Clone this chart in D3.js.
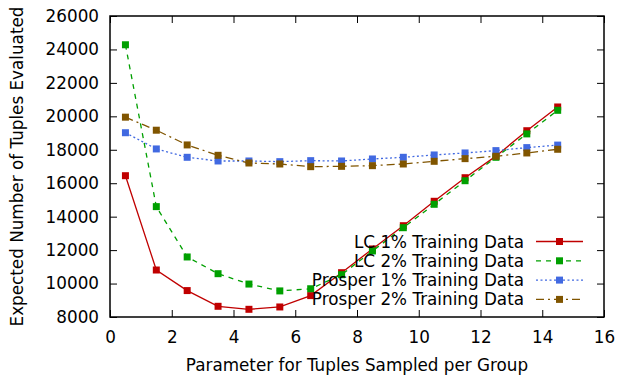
<!DOCTYPE html>
<html><head><meta charset="utf-8">
<script src="https://cdn.jsdelivr.net/npm/d3@7"></script>
<style>body{margin:0;background:#fff}svg{display:block}text{font-family:"DejaVu Sans",sans-serif}</style>
</head><body><svg id="c" width="619" height="376"></svg>
<script>
const xValues = [0.5,1.5,2.5,3.5,4.5,5.5,6.5,7.5,8.5,9.5,10.5,11.5,12.5,13.5,14.5];
const lc1 = [16450,10810,9580,8640,8460,8600,9280,10650,12070,13460,14920,16330,17620,19140,20560];
const lc2 = [24280,14600,11590,10590,9970,9560,9690,10530,11950,13340,14740,16150,17550,18950,20360];
const prosper1 = [19020,18050,17550,17330,17330,17290,17350,17330,17450,17550,17690,17810,17950,18130,18280];
const prosper2 = [19950,19170,18290,17670,17210,17150,16990,17010,17050,17150,17310,17470,17610,17810,18030];
const seriesNames = ["LC 1% Training Data","LC 2% Training Data","Prosper 1% Training Data","Prosper 2% Training Data"];
const xTicks = [0,2,4,6,8,10,12,14,16];
const yTicks = [8000,10000,12000,14000,16000,18000,20000,22000,24000,26000];

const series = [
  {name: seriesNames[0], values: lc1, color: "#c00000", dash: null},
  {name: seriesNames[1], values: lc2, color: "#00a000", dash: "5,5"},
  {name: seriesNames[2], values: prosper1, color: "#4169e1", dash: "2,2.5"},
  {name: seriesNames[3], values: prosper2, color: "#805500", dash: "8,4,2,4"}
];

const W = 619, H = 376;
const m = {left: 110, right: 15, top: 16, bottom: 59};
const svg = d3.select("#c");
const x = d3.scaleLinear().domain([0,16]).range([m.left, W - m.right]);
const y = d3.scaleLinear().domain([8000,26000]).range([H - m.bottom, m.top]);

const fs = 16.8;
// axes
const gx = svg.append("g").attr("transform", `translate(0,${H - m.bottom})`)
  .call(d3.axisBottom(x).tickValues(xTicks).tickFormat(d3.format("d")).tickSizeInner(-7).tickSizeOuter(0).tickPadding(14.5));
const gy = svg.append("g").attr("transform", `translate(${m.left},0)`)
  .call(d3.axisLeft(y).tickValues(yTicks).tickFormat(d3.format("d")).tickSizeInner(-7).tickSizeOuter(0).tickPadding(11));
const gt = svg.append("g").attr("transform", `translate(0,${m.top})`)
  .call(d3.axisTop(x).tickValues(xTicks).tickFormat("").tickSizeInner(-7).tickSizeOuter(0));
const gr = svg.append("g").attr("transform", `translate(${W - m.right},0)`)
  .call(d3.axisRight(y).tickValues(yTicks).tickFormat("").tickSizeInner(-7).tickSizeOuter(0));
[gx, gy, gt, gr].forEach(g => {
  g.select(".domain").remove();
  g.selectAll("line").attr("stroke", "#000").attr("stroke-width", 1);
  g.selectAll("text").attr("font-size", fs).attr("font-family", "DejaVu Sans").attr("fill", "#000");
});

// series
const line = d3.line().x((d, i) => x(xValues[i])).y(d => y(d));
const sq = d3.symbol(d3.symbolSquare, 49);
series.forEach(s => {
  svg.append("path").attr("d", line(s.values)).attr("fill", "none")
    .attr("stroke", s.color).attr("stroke-width", 1.3)
    .attr("stroke-dasharray", s.dash);
  svg.append("g").selectAll("path").data(s.values).join("path")
    .attr("d", sq).attr("fill", s.color)
    .attr("transform", (d, i) => `translate(${x(xValues[i])},${y(d)})`);
});

// frame
svg.append("rect").attr("x", m.left).attr("y", m.top)
  .attr("width", W - m.left - m.right).attr("height", H - m.top - m.bottom)
  .attr("fill", "none").attr("stroke", "#000").attr("stroke-width", 1.5);

// legend
const lg = svg.append("g");
series.forEach((s, i) => {
  const cy = 241.5 + i * 19.3;
  lg.append("text").attr("x", 524).attr("y", cy).attr("dy", "0.36em")
    .attr("text-anchor", "end").attr("font-size", fs).attr("fill", "#000").text(s.name);
  lg.append("line").attr("x1", 536).attr("x2", 583).attr("y1", cy).attr("y2", cy)
    .attr("stroke", s.color).attr("stroke-width", 1.3).attr("stroke-dasharray", s.dash);
  lg.append("path").attr("d", sq).attr("fill", s.color).attr("transform", `translate(559.5,${cy})`);
});

// axis titles
svg.append("text").attr("x", (m.left + W - m.right) / 2).attr("y", 371)
  .attr("text-anchor", "middle").attr("font-size", fs).attr("fill", "#000")
  .text("Parameter for Tuples Sampled per Group");
svg.append("text").attr("transform", `translate(23,${(m.top + H - m.bottom) / 2}) rotate(-90)`)
  .attr("text-anchor", "middle").attr("font-size", fs).attr("fill", "#000")
  .text("Expected Number of Tuples Evaluated");
</script></body></html>
